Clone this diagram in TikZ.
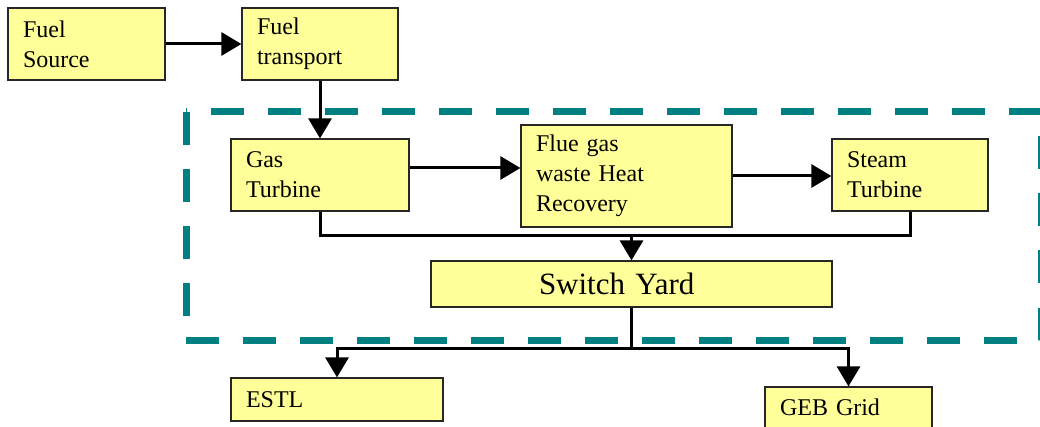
\documentclass[tikz,border=0pt]{standalone}
\usepackage{fontspec}
\setmainfont{Liberation Serif}
\usetikzlibrary{arrows.meta}

\definecolor{boxfill}{HTML}{FFFF99}
\definecolor{plantline}{HTML}{008080}

\tikzset{
    block/.style={draw=black!85, line width=1.2pt, fill=boxfill, inner xsep=15pt,
        align=left, font=\fontsize{24}{30}\selectfont},
    flow/.style={line width=3pt},
    arr/.style={flow, -{Triangle[length=20pt, width=23pt]}}
}

\begin{document}
\begin{tikzpicture}[x=1pt, y=-1pt]
    \clip (0,0) rectangle (1040,427);

    % Draw plant boundary
    \draw[plantline, line width=7pt, dash pattern=on 33pt off 24pt]
        (186,112) rectangle (1041.5,340);

    % Draw blocks
    \node[block, text width=127pt, minimum height=72pt] (fsrc) at (86.5,44) {Fuel\\Source};
    \node[block, text width=126pt, minimum height=72pt] (ftrans) at (320,44) {Fuel\\transport};
    \node[block, text width=148pt, minimum height=72pt] (gasturb) at (320,175) {Gas\\Turbine};
    \node[block, text width=181pt, minimum height=102pt] (hrec) at (626.5,176) {Flue gas\\waste Heat\\Recovery};
    \node[block, text width=126pt, minimum height=72pt] (stturb) at (910,175) {Steam\\Turbine};
    \node[block, text width=371pt, minimum height=46pt, align=left,
        font=\fontsize{31}{36}\selectfont] (swyard) at (631.5,284) {\hspace*{93pt}Switch Yard};
    \node[block, text width=182pt, minimum height=43pt] (estl) at (337,399.5) {ESTL};
    \node[block, text width=137pt, minimum height=41pt] (geb) at (848.5,407.5) {GEB Grid};

    % Draw fuel path
    \draw[arr] (fsrc) -- (ftrans);
    \draw[arr] (ftrans) -- (gasturb);
    \draw[arr] ([yshift=7pt]gasturb.east) -- ([yshift=7pt]gasturb.east -| hrec.west);
    \draw[arr] (hrec.east) -- (hrec.east -| stturb.west);

    % Draw collector bus
    \coordinate (busin) at (631.5,236);
    \draw[flow] (gasturb.south) |- (busin) -| (stturb.south);
    \draw[arr] (busin) -- (swyard.north);

    % Draw outgoing feeders
    \coordinate (busout) at (631.5,348);
    \draw[flow] (swyard.south) -- (busout);
    \draw[arr] (busout) -| (estl.north);
    \draw[arr] (busout) -| (geb.north);
\end{tikzpicture}
\end{document}
